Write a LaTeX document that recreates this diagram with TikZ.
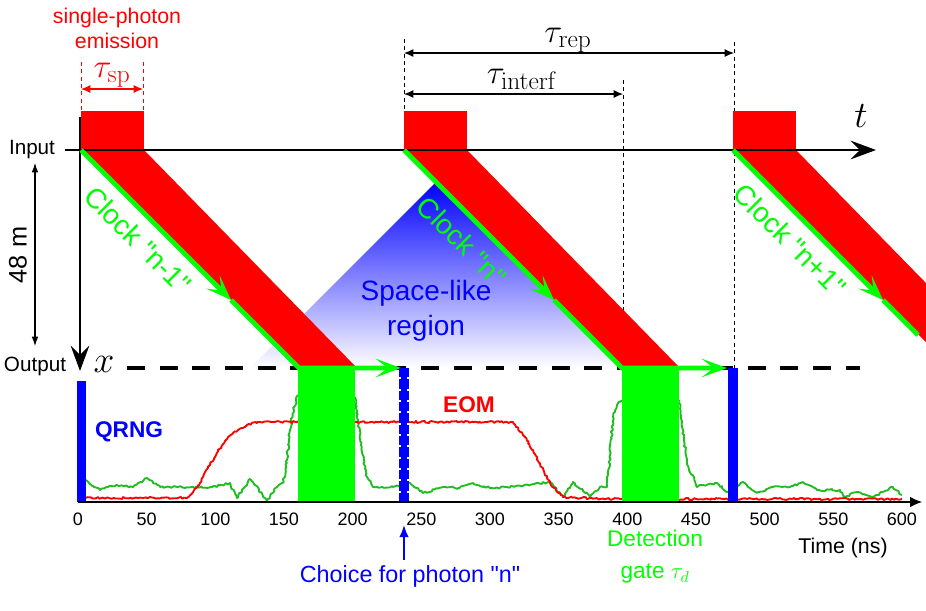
\documentclass[tikz,border=0pt]{standalone}
\usepackage{fix-cm}
\usepackage[no-math]{fontspec}
\setmainfont{Liberation Sans}
\DeclareMathSizes{25}{25}{19}{14}
\usetikzlibrary{positioning}
\usetikzlibrary{arrows.meta, decorations.pathmorphing}

\definecolor{pulsered}{RGB}{255,0,0}
\definecolor{clockgreen}{RGB}{0,255,0}
\definecolor{tracegreen}{RGB}{30,190,30}
\definecolor{rngblue}{RGB}{0,0,255}

\begin{document}
\begin{tikzpicture}[x=0.75pt,y=-0.75pt]
    \tikzset{pulse/.style={fill=pulsered}}
    \tikzset{gatebox/.style={fill=clockgreen}}
    \tikzset{clockline/.style={draw=clockgreen, line width=3.6pt}}
    \tikzset{clockarrow/.style={clockline, -{Stealth[length=19pt,width=14pt,inset=9pt]}}}
    \tikzset{axis/.style={draw=black, line width=1.3pt, -{Stealth[length=19pt,width=14pt,inset=7pt]}}}
    \tikzset{guide/.style={draw=black, line width=0.6pt, dash pattern=on 3pt off 2.5pt}}
    \tikzset{span/.style={draw=black, line width=0.8pt, {Latex[length=7pt,width=6pt]}-{Latex[length=7pt,width=6pt]}}}
    \tikzset{trace/.style={line width=1.4pt, line join=round, decorate,
                           decoration={random steps, segment length=1.5pt, amplitude=0.8pt}}}
    \tikzset{txt/.style={font=\fontsize{15.5}{18}\selectfont}}
    \tikzset{mathlbl/.style={font=\fontsize{25}{27}\selectfont}}
    \tikzset{clocklbl/.style={text=clockgreen, rotate=-45, font=\fontsize{21}{23}\selectfont}}
    \tikzset{ticklbl/.style={font=\fontsize{13.5}{15}\selectfont}}

    \useasboundingbox (0,0) rectangle (926,611);
    \pgfmathsetseed{11}

    % space-like region
    \shade[top color=rngblue, bottom color=white] (250,368) -- (436,182) -- (622,368) -- cycle;

    % timing guides
    \coordinate (g1t) at (404,39);  \coordinate (g1b) at (404,150);
    \coordinate (g2t) at (623,80);  \coordinate (g2b) at (623,368);
    \coordinate (g3t) at (734,42);  \coordinate (g3b) at (734,368);
    \draw[guide] (g1t) -- (g1b);
    \draw[guide] (g2t) -- (g2b);
    \draw[guide] (g3t) -- (g3b);

    % photon pulses
    \foreach \s in {81,404,733} {
        \fill[pulse] (\s,111) rectangle ++(63,39);
        \fill[pulse] (\s,150) -- ++(63,0) -- ++(213,218) -- ++(-57,0) -- cycle;
    }

    % axes
    \coordinate (inL) at (65,150);  \coordinate (tTip) at (876,150);
    \coordinate (vTop) at (80,117); \coordinate (vTip) at (80,371);
    \draw[axis] (inL) -- (tTip);
    \draw[axis] (vTop) -- (vTip);
    \node[txt] (input) at (32,150) {Input};
    \node[txt] (output) at (35,366) {Output};
    \node[font=\fontsize{28}{30}\selectfont] (tlbl) at (861,116) {$t$};
    \node[font=\fontsize{28}{30}\selectfont] (xlbl) at (104,364) {$x$};
    \coordinate (outL) at (127,368); \coordinate (outR) at (860,368);
    \draw[black, line width=3pt, dash pattern=on 13.5pt off 11pt] (outL) -- (outR);

    % fibre length
    \coordinate (dTop) at (35,163); \coordinate (dBot) at (35,346);
    \draw[draw=black, line width=0.8pt, {Latex[length=7pt,width=5pt]}-{Latex[length=7pt,width=5pt]}] (dTop) -- (dBot);
    \node[rotate=90, font=\fontsize{19}{21}\selectfont] (dist) at (18,255) {48 m};

    % single-photon emission
    \node[text=pulsered, align=center, font=\fontsize{16}{18.75}\selectfont] (emis) at (117,28) {single-photon\\emission};
    \coordinate (sp1t) at (81,62);  \coordinate (sp1b) at (81,111);
    \coordinate (sp2t) at (143,62); \coordinate (sp2b) at (143,111);
    \draw[pulsered, line width=0.6pt, dash pattern=on 3pt off 2.5pt] (sp1t) -- (sp1b);
    \draw[pulsered, line width=0.6pt, dash pattern=on 3pt off 2.5pt] (sp2t) -- (sp2b);
    \coordinate (spL) at (81,89); \coordinate (spR) at (143,89);
    \draw[pulsered, line width=0.8pt, {Latex[length=7pt,width=6pt]}-{Latex[length=7pt,width=6pt]}] (spL) -- (spR);
    \node[mathlbl, text=pulsered, anchor=base] (tsp) at (112,77) {$\tau_{\mathrm{sp}}$};

    % repetition and interferometer delays
    \coordinate (repL) at (404,53); \coordinate (repR) at (734,53);
    \coordinate (intL) at (404,94); \coordinate (intR) at (623,94);
    \draw[span] (repL) -- (repR);
    \node[mathlbl, anchor=base] (trep) at (568,42) {$\tau_{\mathrm{rep}}$};
    \draw[span] (intL) -- (intR);
    \node[mathlbl, anchor=base] (tint) at (522,83) {$\tau_{\mathrm{interf}}$};

    % measured signals
    \draw[trace, draw=tracegreen] (86,480) -- (93,486) -- (100,490) -- (108,487) -- (117,485) -- (133,487)
        -- (147,478) -- (160,487) -- (178,487) -- (193,487) -- (212,487) -- (230,483) -- (237,498)
        -- (250,479) -- (259,490) -- (267,501) -- (277,487) -- (283,483) -- (287,460) -- (290,430)
        -- (294,407) -- (298,395);
    \draw[trace, draw=tracegreen] (355,397) -- (358,420) -- (361,445) -- (367,477) -- (373,487)
        -- (393,487) -- (410,483) -- (423,493) -- (443,487) -- (458,488) -- (473,483) -- (490,488)
        -- (507,487) -- (530,485) -- (550,482) -- (563,497) -- (573,482) -- (590,497) -- (600,487)
        -- (607,487) -- (610,455) -- (613,417) -- (617,405) -- (622,400);
    \draw[trace, draw=tracegreen] (679,400) -- (683,430) -- (687,463) -- (697,487) -- (703,485)
        -- (717,483) -- (727,492) -- (743,482) -- (757,493) -- (773,487) -- (790,487) -- (803,482)
        -- (817,490) -- (840,490) -- (845,497) -- (857,492) -- (873,497) -- (893,487) -- (902,495);
    \draw[trace, draw=pulsered] (86,498) -- (187,498) -- (200,483) -- (208,468) -- (217,453) -- (225,441)
        -- (233,433) -- (247,425) -- (260,422) -- (513,422) -- (523,435) -- (533,450) -- (550,483)
        -- (563,497) -- (600,499) -- (902,499);
    \node[font=\bfseries\fontsize{17}{19}\selectfont, text=pulsered] (eom) at (469,405) {EOM};

    % detection gates
    \fill[gatebox] (298,368) rectangle (355,502);
    \fill[gatebox] (622,368) rectangle (679,502);

    % clocks
    \coordinate (c1s) at (81,150);  \coordinate (c1m) at (231,300);
    \coordinate (c1b) at (299,368); \coordinate (c1e) at (401,368);
    \coordinate (c2s) at (404,150); \coordinate (c2m) at (554,300);
    \coordinate (c2b) at (622,368); \coordinate (c2e) at (727,368);
    \coordinate (c3s) at (733,150); \coordinate (c3m) at (883,300);
    \coordinate (c3b) at (918,335);
    \draw[clockarrow] (c1s) -- (c1m);
    \draw[clockarrow] (c1m) -- (c1b) -- (c1e);
    \draw[clockarrow] (c2s) -- (c2m);
    \draw[clockarrow] (c2m) -- (c2b) -- (c2e);
    \draw[clockarrow] (c3s) -- (c3m);
    \draw[clockline] (c3m) -- (c3b);
    \node[clocklbl] (clk1) at (138,240) {Clock \textquotedbl n-1\textquotedbl};
    \node[clocklbl] (clk2) at (462,241) {Clock \textquotedbl n\textquotedbl};
    \node[clocklbl] (clk3) at (790,240) {Clock \textquotedbl n+1\textquotedbl};

    \node[text=rngblue, align=center, font=\fontsize{21}{26}\selectfont] (space) at (426,311) {Space-like\\region};

    % random number generator
    \fill[rngblue] (77,381) rectangle (86,502);
    \coordinate (q1t) at (404,368); \coordinate (q1b) at (404,502);
    \draw[rngblue, line width=4.5pt] (q1t) -- (q1b);
    \draw[rngblue, line width=7pt, dash pattern=on 7pt off 1.5pt] (q1t) -- (q1b);
    \fill[rngblue] (728,368) rectangle (738,502);
    \node[font=\bfseries\fontsize{17}{19}\selectfont, text=rngblue] (qrng) at (129,432) {QRNG};

    % time axis
    \coordinate (t0) at (78,502); \coordinate (tEnd) at (922,502);
    \draw[black, line width=0.8pt, -{Latex[length=9pt,width=8pt]}] (t0) -- (tEnd);
    \foreach \v in {0,50,...,600}
        \node[ticklbl] (tick\v) at ({78+\v*1.3733},519) {\v};
    \node[font=\fontsize{16}{18}\selectfont] (tunit) at (843,548) {Time (ns)};

    \node[text=clockgreen, align=center, font=\fontsize{17}{24}\selectfont] (gate) at (655,557) {Detection\\gate $\tau_d$};
    \node[text=rngblue, font=\fontsize{17.5}{19}\selectfont] (choice) at (410,576) {Choice for photon \textquotedbl n\textquotedbl};
    \coordinate (chTip) at (404,525);
    \draw[rngblue, line width=1.2pt, -{Latex[length=9pt,width=7pt]}] (choice.north -| chTip) -- (chTip);
\end{tikzpicture}
\end{document}
